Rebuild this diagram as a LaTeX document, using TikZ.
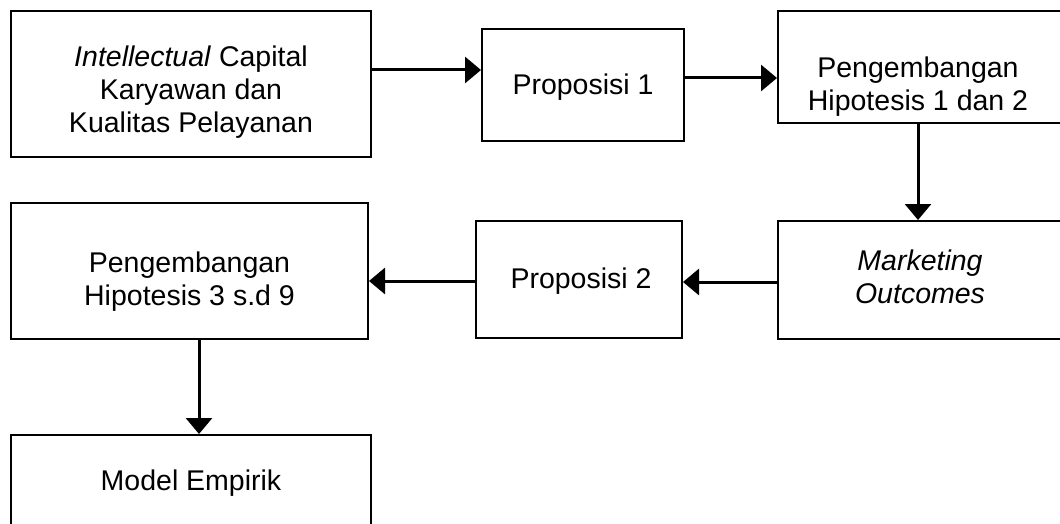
\documentclass[tikz,border=0pt]{standalone}
\usepackage{fontspec}
\setmainfont{Liberation Sans}
\usetikzlibrary{arrows.meta,calc}
\begin{document}
\begin{tikzpicture}[x=1pt,y=-1pt,
  box/.style={draw=black, line width=2pt, rectangle, inner sep=0pt},
  txt/.style={align=center, font=\fontsize{28.5}{33}\selectfont, inner sep=0pt},
  arr/.style={line width=3pt, -{Triangle[length=16pt,width=26pt]}}]
\fill[white] (0,0) rectangle (1060,524);
\useasboundingbox (0,0) rectangle (1060,524);
\clip (0,0) rectangle (1060,524);

% boxes
\node[box, minimum width=360pt, minimum height=146pt] (b1) at (191,84) {};
\node[box, minimum width=202pt, minimum height=112pt] (b2) at (583,85) {};
\node[box, minimum width=283pt, minimum height=112pt] (b3) at (919.5,67) {};
\node[box, minimum width=283pt, minimum height=118pt] (b4) at (919.5,280) {};
\node[box, minimum width=206pt, minimum height=117pt] (b5) at (579,279.5) {};
\node[box, minimum width=357pt, minimum height=136pt] (b6) at (189.5,271) {};
\node[box, minimum width=360pt, minimum height=91pt] (b7) at (191,480.5) {};

% texts
\node[txt] (t1) at (191,93) {\strut\textit{Intellectual} Capital\\\strut Karyawan dan\\\strut Kualitas Pelayanan};
\node[txt] (t2) at (583,88.4) {\strut Proposisi 1};
\node[txt] (t3) at (918,87) {\strut Pengembangan\\\strut Hipotesis 1 dan 2};
\node[txt] (t4) at (920,280) {\strut\textit{Marketing}\\\strut\textit{Outcomes}};
\node[txt] (t5) at (581,281.4) {\strut Proposisi 2};
\node[txt] (t6) at (189.5,282) {\strut Pengembangan\\\strut Hipotesis 3 s.d 9};
\node[txt] (t7) at (191,483.4) {\strut Model Empirik};

% connectors
\draw[arr] ([yshift=14pt]b1.east) -- ([yshift=14pt]b1.east -| b2.west);
\draw[arr] ([yshift=7pt]b2.east) -- ([yshift=7pt]b2.east -| b3.west);
\draw[arr] ([xshift=-1.5pt]b3.south) -- ([xshift=-1.5pt]b4.north);
\draw[arr] ([yshift=-2pt]b4.west) -- ([yshift=-2pt]b4.west -| b5.east);
\draw[arr] ([yshift=-1.5pt]b5.west) -- ([yshift=-1.5pt]b5.west -| b6.east);
\draw[arr] ([xshift=9.5pt]b6.south) -- ([xshift=9.5pt]b6.south |- b7.north);
\end{tikzpicture}
\end{document}
